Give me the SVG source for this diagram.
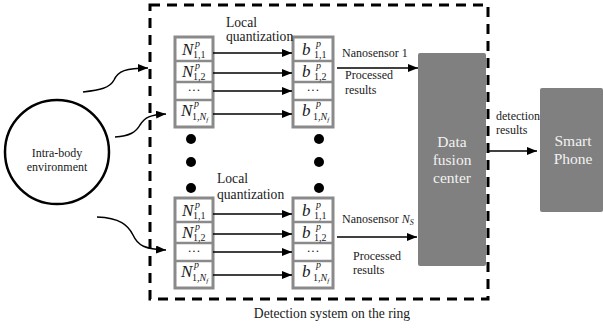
<svg xmlns="http://www.w3.org/2000/svg" width="603" height="331" viewBox="0 0 603 331" font-family="'Liberation Serif', 'Times New Roman', 'DejaVu Serif', serif">
<style>
text{font-family:'Liberation Serif','Times New Roman','DejaVu Serif',serif;fill:#1a1a1a}
.lbl{font-size:12px}
.lq{font-size:13.6px}
.m{font-size:17px;font-style:italic}
.sp{font-size:10px;font-style:italic}
.sb{font-size:10px}
.dt{font-size:13px;text-anchor:middle}
.box{fill:#fff;stroke:#8a8a8a;stroke-width:3}
.div{stroke:#8a8a8a;stroke-width:2.5}
.big{fill:#808080}
.bt{font-size:15.5px;fill:#f2f2f2;text-anchor:middle}
.ar{fill:none;stroke:#000;stroke-width:1.5;marker-end:url(#ah)}
.dot{fill:#000}
</style>
<defs>
<marker id="ah" markerUnits="userSpaceOnUse" markerWidth="10" markerHeight="8" refX="10" refY="4" orient="auto">
<path d="M0,0 L10,4 L0,8 z" fill="#000"/>
</marker>
<g id="colN">
<rect class="box" x="175" y="37" width="38" height="90"/>
<line class="div" x1="175" y1="61" x2="213" y2="61"/>
<line class="div" x1="175" y1="82" x2="213" y2="82"/>
<line class="div" x1="175" y1="100" x2="213" y2="100"/>
<text class="m" x="182" y="55">N</text><text class="sp" x="195" y="47">p</text><text class="sb" x="193" y="58">1,1</text>
<text class="m" x="182" y="77">N</text><text class="sp" x="195" y="69">p</text><text class="sb" x="193" y="80">1,2</text>
<text class="dt" x="194" y="94">···</text>
<text class="m" x="181" y="116">N</text><text class="sp" x="194" y="107">p</text><text class="sb" x="192" y="120">1,<tspan font-style="italic">N</tspan><tspan font-size="7" font-style="italic" dy="2">f</tspan></text>
</g>
<g id="colB">
<rect class="box" x="293" y="37" width="40" height="90"/>
<line class="div" x1="293" y1="61" x2="333" y2="61"/>
<line class="div" x1="293" y1="82" x2="333" y2="82"/>
<line class="div" x1="293" y1="100" x2="333" y2="100"/>
<text class="m" x="302" y="55">b</text><text class="sp" x="316" y="47">p</text><text class="sb" x="314" y="58">1,1</text>
<text class="m" x="302" y="77">b</text><text class="sp" x="316" y="69">p</text><text class="sb" x="314" y="80">1,2</text>
<text class="dt" x="313" y="94">···</text>
<text class="m" x="302" y="116">b</text><text class="sp" x="316" y="107">p</text><text class="sb" x="313" y="120">1,<tspan font-style="italic">N</tspan><tspan font-size="7" font-style="italic" dy="2">f</tspan></text>
</g>
</defs>

<g id="ring-border">
<rect x="150" y="5" width="338" height="294" fill="none" stroke="#000" stroke-width="3" stroke-dasharray="10 7"/>
<text class="lq" x="332" y="318" text-anchor="middle">Detection system on the ring</text>
</g>

<g id="intra-body">
<circle cx="57" cy="152" r="52" fill="none" stroke="#000" stroke-width="2.5"/>
<text class="lbl" x="57" y="157" text-anchor="middle">Intra-body</text>
<text class="lbl" x="57" y="171" text-anchor="middle">environment</text>
</g>

<g id="sensor1-raw"><use href="#colN"/></g>
<g id="sensor1-bits"><use href="#colB"/></g>
<g id="sensorNs-raw"><use href="#colN" transform="translate(0,161)"/></g>
<g id="sensorNs-bits"><use href="#colB" transform="translate(0,161)"/></g>

<g id="quant-labels">
<text class="lq" x="226" y="27">Local</text>
<text class="lq" x="226" y="41">quantization</text>
<text class="lq" x="217" y="183">Local</text>
<text class="lq" x="217" y="199">quantization</text>
</g>

<g id="dots">
<circle class="dot" cx="191" cy="139" r="5"/>
<circle class="dot" cx="191" cy="162" r="5"/>
<circle class="dot" cx="191" cy="188" r="5"/>
<circle class="dot" cx="319" cy="139" r="5"/>
<circle class="dot" cx="319" cy="162" r="5"/>
<circle class="dot" cx="319" cy="188" r="5"/>
</g>

<g id="fusion-center">
<rect class="big" x="418" y="53" width="68" height="213" rx="2"/>
<text class="bt" x="452" y="147">Data</text>
<text class="bt" x="452" y="165">fusion</text>
<text class="bt" x="452" y="183">center</text>
</g>

<g id="smart-phone">
<rect class="big" x="540" y="88" width="63" height="124" rx="2"/>
<text class="bt" x="573" y="146">Smart</text>
<text class="bt" x="573" y="164">Phone</text>
</g>

<g id="connectors">
<path class="ar" d="M83,92 C100,90 110,88 114,80 C118,71 126,68 148,68"/>
<path class="ar" d="M115,137 C130,136 136,132 140,125 C145,117 150,115 166,114"/>
<path class="ar" d="M97,217 C120,218 128,225 133,235 C138,246 145,249 166,250"/>
<line class="ar" x1="213" y1="53" x2="292" y2="53"/>
<line class="ar" x1="213" y1="73" x2="292" y2="73"/>
<line class="ar" x1="213" y1="91" x2="292" y2="91"/>
<line class="ar" x1="213" y1="114" x2="292" y2="114"/>
<line class="ar" x1="213" y1="214" x2="292" y2="214"/>
<line class="ar" x1="213" y1="234" x2="292" y2="234"/>
<line class="ar" x1="213" y1="252" x2="292" y2="252"/>
<line class="ar" x1="213" y1="275" x2="292" y2="275"/>
<line class="ar" x1="337" y1="68" x2="418" y2="68"/>
<line class="ar" x1="337" y1="237" x2="417" y2="237"/>
<line class="ar" x1="487" y1="151" x2="537" y2="151"/>
<text class="lbl" x="342" y="57">Nanosensor 1</text>
<text class="lbl" x="345" y="79">Processed</text>
<text class="lbl" x="345" y="94">results</text>
<text class="lbl" x="342" y="223">Nanosensor <tspan font-style="italic">N</tspan><tspan font-size="8" font-style="italic" dy="2">S</tspan></text>
<text class="lbl" x="353" y="260">Processed</text>
<text class="lbl" x="353" y="274">results</text>
<text class="lbl" x="496" y="120">detection</text>
<text class="lbl" x="496" y="134">results</text>
</g>
</svg>
